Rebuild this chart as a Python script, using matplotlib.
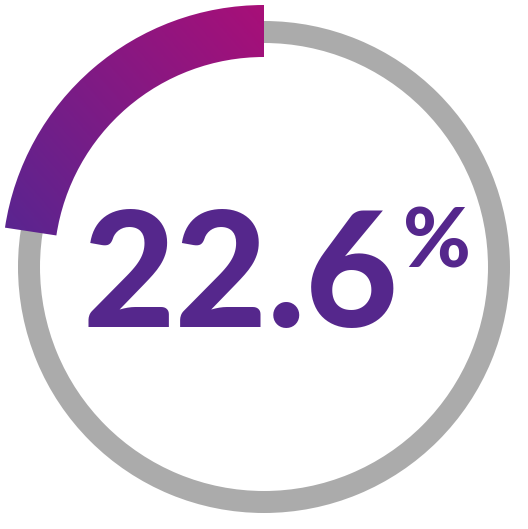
import numpy as np
import matplotlib.pyplot as plt
from matplotlib.patches import Wedge
from matplotlib.colors import LinearSegmentedColormap

# value shown by the ring
value = 22.6
label = "22.6"
unit = "%"

track_color = "#ababab"
arc_colors = ["#a80f78", "#5a2590"]
text_color = "#55278c"

W, H = 528, 529
cx, cy = 264, H - 267

fig = plt.figure(figsize=(W / 100, H / 100), dpi=100)
ax = fig.add_axes([0, 0, 1, 1])
ax.set_xlim(0, W)
ax.set_ylim(0, H)
ax.axis("off")

# grey track
track = Wedge((cx, cy), 246, 0, 360, width=22, facecolor=track_color, edgecolor="none")
ax.add_patch(track)

# gradient arc, starting at 12 o'clock and running anticlockwise
sweep = value / 100 * 360
arc = Wedge((cx, cy), 262, 90, 90 + sweep, width=52, facecolor="none", edgecolor="none")
ax.add_patch(arc)

xs = np.linspace(0, W, 400)
ys = np.linspace(0, H, 400)
gx, gy = np.meshgrid(xs, ys)
p0 = np.array([264, H - 5])
p1 = np.array([5, H - 230])
d = p1 - p0
t = ((gx - p0[0]) * d[0] + (gy - p0[1]) * d[1]) / (d @ d)
t = np.clip(t, 0, 1)
cmap = LinearSegmentedColormap.from_list("arc", arc_colors)
im = ax.imshow(t, cmap=cmap, origin="lower", extent=[0, W, 0, H], aspect="auto", zorder=2)
im.set_clip_path(arc)

ax.text(82, H - 327, label, fontsize=115, family="Lato", fontweight="black",
        color=text_color, ha="left", va="baseline")
ax.text(403, H - 268, unit, fontsize=59, family="Lato", fontweight="black",
        color=text_color, ha="left", va="baseline")

fig.savefig("out.png", dpi=100)
